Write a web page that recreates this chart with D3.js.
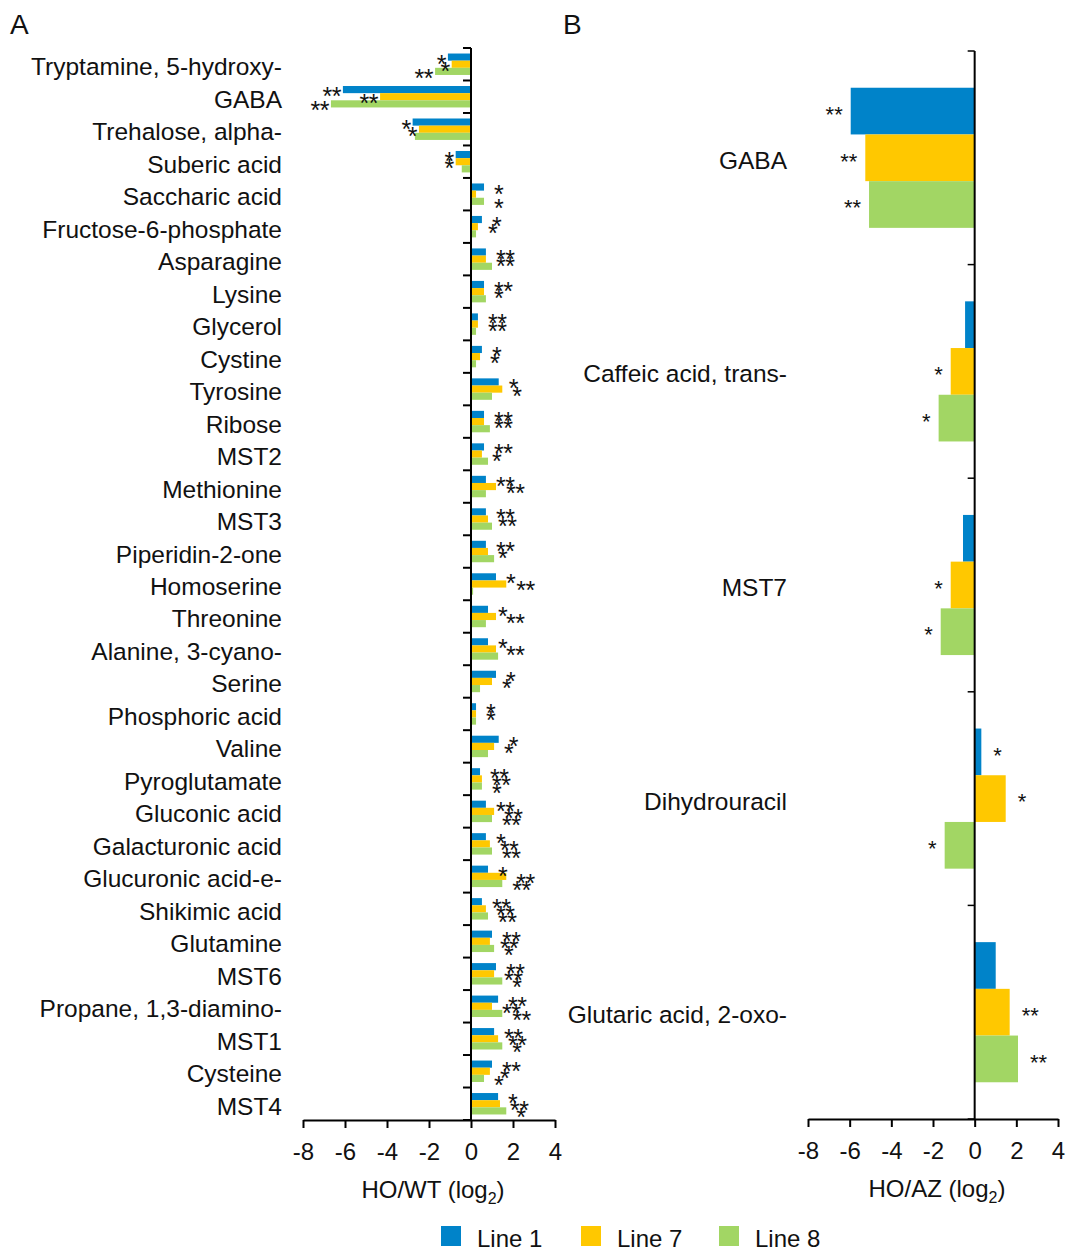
<!DOCTYPE html>
<html>
<head>
<meta charset="utf-8">
<script src="https://cdn.jsdelivr.net/npm/d3@7"></script>
<style>
  body { margin: 0; background: #fff; }
  svg { display: block; font-family: "Liberation Sans", Arial, sans-serif; }
</style>
</head>
<body>
<script>
// Panel A: metabolites, HO vs WT (log2 fold change)
const categoriesA = [
  "Tryptamine, 5-hydroxy-", "GABA", "Trehalose, alpha-", "Suberic acid", "Saccharic acid",
  "Fructose-6-phosphate", "Asparagine", "Lysine", "Glycerol", "Cystine", "Tyrosine",
  "Ribose", "MST2", "Methionine", "MST3", "Piperidin-2-one", "Homoserine", "Threonine",
  "Alanine, 3-cyano-", "Serine", "Phosphoric acid", "Valine", "Pyroglutamate",
  "Gluconic acid", "Galacturonic acid", "Glucuronic acid-e-", "Shikimic acid",
  "Glutamine", "MST6", "Propane, 1,3-diamino-", "MST1", "Cysteine", "MST4"
];
const line1A = [-1.1, -6.1, -2.78, -0.73, 0.62, 0.52, 0.71, 0.62, 0.33, 0.52, 1.32, 0.62, 0.62, 0.71, 0.71, 0.71, 1.19, 0.81, 0.81, 1.19, 0.24, 1.32, 0.43, 0.71, 0.71, 0.81, 0.52, 1.0, 1.19, 1.29, 1.1, 1.0, 1.29];
const line7A = [-0.92, -4.33, -2.48, -0.73, 0.24, 0.33, 0.71, 0.62, 0.33, 0.43, 1.49, 0.62, 0.52, 1.19, 0.81, 0.81, 1.68, 1.19, 1.19, 1.0, 0.24, 1.1, 0.52, 1.1, 0.9, 1.68, 0.71, 0.9, 1.1, 1.0, 1.29, 0.9, 1.38];
const line8A = [-1.71, -6.67, -2.67, -0.44, 0.62, 0.24, 1.0, 0.71, 0.24, 0.24, 1.0, 0.9, 0.81, 0.71, 1.0, 1.1, 0.1, 0.71, 1.29, 0.43, 0.24, 0.81, 0.52, 1.0, 1.0, 1.49, 0.81, 1.1, 1.49, 1.49, 1.49, 0.62, 1.68];
const sig1A = ["*","**","*","*","*","*","**","**","**","*","*","**","**","**","**","**","*","*","*","*","*","*","**","**","*","*","**","**","**","**","**","**","*"];
const sig7A = ["*","**","*","*","","*","**","*","**","*","*","**","*","**","**","*","**","**","**","*","*","*","**","**","**","**","**","**","**","**","**","*","**"];
const sig8A = ["**","**","","","*","","","","","","","","","","","","","","","","","","*","**","**","**","**","*","*","**","*","*","*"];

// Panel B: metabolites, HO vs AZ (log2 fold change)
const categoriesB = ["GABA", "Caffeic acid, trans-", "MST7", "Dihydrouracil", "Glutaric acid, 2-oxo-"];
const line1B = [-5.95, -0.46, -0.56, 0.32, 1.01];
const line7B = [-5.25, -1.15, -1.15, 1.49, 1.68];
const line8B = [-5.07, -1.73, -1.63, -1.44, 2.08];
const sig1B = ["**", "", "", "*", ""];
const sig7B = ["**", "*", "*", "*", "**"];
const sig8B = ["**", "*", "*", "*", "**"];

const seriesNames = ["Line 1", "Line 7", "Line 8"];
const seriesColors = ["#0083c9", "#ffc800", "#a2d664"];
const xTicks = [-8, -6, -4, -2, 0, 2, 4];

const svg = d3.select("body").append("svg")
  .attr("width", 1068).attr("height", 1251);

function drawPanel(cfg) {
  const g = svg.append("g");
  const x = d3.scaleLinear().domain([-8, 4]).range(cfg.xRange);
  const y = d3.scaleBand().domain(cfg.categories).range(cfg.yRange);
  const bw = y.bandwidth();
  const inner = d3.scaleBand().domain(seriesNames)
    .range([bw * cfg.groupPad, bw * (1 - cfg.groupPad)]);

  const rows = cfg.categories.map((c, i) => ({
    c,
    vals: cfg.values.map(arr => arr[i]),
    sigs: cfg.sigs.map(arr => arr[i])
  }));

  // bars
  const rowG = g.selectAll("g.row").data(rows).join("g")
    .attr("class", "row")
    .attr("transform", d => `translate(0,${y(d.c)})`);
  rowG.selectAll("rect")
    .data(d => d.vals.map((v, k) => ({ v, k })))
    .join("rect")
    .attr("x", d => x(Math.min(0, d.v)))
    .attr("width", d => Math.abs(x(d.v) - x(0)))
    .attr("y", d => inner(seriesNames[d.k]))
    .attr("height", inner.bandwidth())
    .attr("fill", d => seriesColors[d.k]);

  // significance marks
  rowG.selectAll("text.sig")
    .data(d => d.sigs.map((s, k) => ({ s, k, v: d.vals[k] })).filter(e => e.s))
    .join("text")
    .attr("class", "sig")
    .attr("x", d => d.v < 0 ? x(d.v) - cfg.starGapNeg : x(d.v) + cfg.starGapPos)
    .attr("y", d => inner(seriesNames[d.k]) + inner.bandwidth() / 2 + cfg.starSize * 0.58 + cfg.starShift)
    .attr("text-anchor", d => d.v < 0 ? "end" : "start")
    .attr("font-size", cfg.starSize)
    .attr("letter-spacing", cfg.starSpacing)
    .attr("fill", "#111")
    .text(d => d.s);

  // category labels
  g.selectAll("text.cat").data(cfg.categories).join("text")
    .attr("class", "cat")
    .attr("x", cfg.labelX)
    .attr("y", d => y(d) + bw / 2 + 11)
    .attr("text-anchor", "end")
    .attr("font-size", 24.5)
    .attr("fill", "#111")
    .text(d => d);

  // vertical axis at zero with ticks on category boundaries
  const bounds = cfg.categories.map(c => y(c)).concat([cfg.yRange[1]]);
  g.append("line")
    .attr("x1", x(0)).attr("x2", x(0))
    .attr("y1", cfg.yRange[0]).attr("y2", cfg.yRange[1])
    .attr("stroke", "#000").attr("stroke-width", 2);
  g.selectAll("line.ytick").data(bounds).join("line")
    .attr("class", "ytick")
    .attr("x1", x(0) - cfg.yTickLen).attr("x2", x(0))
    .attr("y1", d => d).attr("y2", d => d)
    .attr("stroke", "#000").attr("stroke-width", cfg.yTickWidth);

  // horizontal value axis
  const ax = g.append("g")
    .attr("transform", `translate(0,${cfg.yRange[1]})`)
    .call(d3.axisBottom(x).tickValues(xTicks).tickSize(8).tickSizeOuter(0)
      .tickPadding(15).tickFormat(d => String(d)));
  ax.select(".domain").attr("stroke", "#000").attr("stroke-width", 2);
  ax.selectAll(".tick line").attr("stroke", "#000").attr("stroke-width", 2);
  ax.selectAll(".tick text")
    .attr("font-size", 24).attr("fill", "#111")
    .attr("font-family", "Liberation Sans, Arial, sans-serif");

  // axis title with subscript
  const title = g.append("text")
    .attr("x", (cfg.xRange[0] + cfg.xRange[1]) / 2 + 4)
    .attr("y", cfg.yRange[1] + 78)
    .attr("text-anchor", "middle")
    .attr("font-size", 24)
    .attr("fill", "#111");
  title.append("tspan").text(cfg.title + " (log");
  title.append("tspan").attr("font-size", 16).attr("dy", 6).text("2");
  title.append("tspan").attr("dy", -6).text(")");

  // panel letter
  g.append("text")
    .attr("x", cfg.letterX).attr("y", 34)
    .attr("font-size", 28).attr("fill", "#111")
    .text(cfg.letter);
}

drawPanel({
  letter: "A", letterX: 10,
  categories: categoriesA,
  values: [line1A, line7A, line8A],
  sigs: [sig1A, sig7A, sig8A],
  xRange: [303, 555], yRange: [48, 1120],
  groupPad: 0.17,
  labelX: 282,
  starSize: 25, starSpacing: -0.5, starGapNeg: 2, starGapPos: 10, starShift: 1,
  yTickLen: 8, yTickWidth: 2,
  title: "HO/WT"
});

drawPanel({
  letter: "B", letterX: 563,
  categories: categoriesB,
  values: [line1B, line7B, line8B],
  sigs: [sig1B, sig7B, sig8B],
  xRange: [808, 1058], yRange: [51, 1119],
  groupPad: 0.172,
  labelX: 787,
  starSize: 22, starSpacing: 0, starGapNeg: 8, starGapPos: 12, starShift: -2,
  yTickLen: 7, yTickWidth: 1.5,
  title: "HO/AZ"
});

// legend
const legend = svg.append("g").attr("transform", "translate(0,1226)");
const legendX = [441, 581, 719];
const legendItems = legend.selectAll("g").data(seriesNames).join("g")
  .attr("transform", (d, i) => `translate(${legendX[i]},0)`);
legendItems.append("rect")
  .attr("width", 20).attr("height", 20)
  .attr("fill", (d, i) => seriesColors[i]);
legendItems.append("text")
  .attr("x", 36).attr("y", 21)
  .attr("font-size", 24).attr("fill", "#111")
  .text(d => d);
</script>
</body>
</html>
